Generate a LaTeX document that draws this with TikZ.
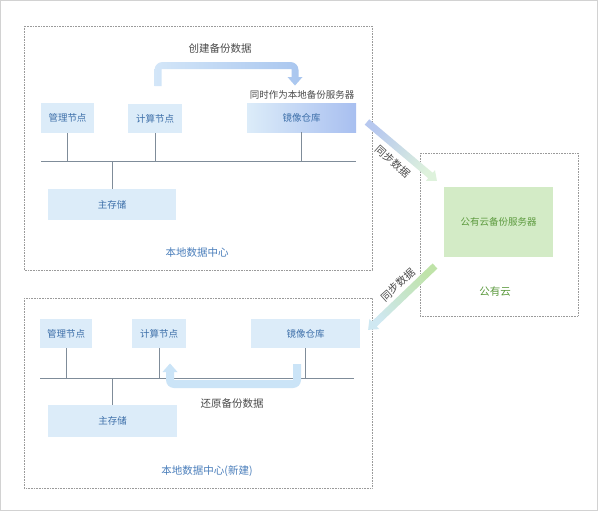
\documentclass[tikz,border=0pt]{standalone}
\usepackage{fontspec}
\newfontfamily\cjk{Noto Sans CJK SC}
\definecolor{boxfill}{HTML}{DCECF9}
\definecolor{boxtext}{HTML}{3D6FA9}
\definecolor{labtext}{HTML}{4A4A4A}
\definecolor{dctext}{HTML}{4A7EBB}
\definecolor{gfill}{HTML}{D3EBC6}
\definecolor{gtext}{HTML}{5C9A3E}
\definecolor{frame}{HTML}{9A9A9A}
\definecolor{busc}{HTML}{7F8C99}
\definecolor{repoR}{RGB}{168,191,240}
\definecolor{arrL}{RGB}{211,230,248}
\definecolor{arrR}{RGB}{169,198,239}
\definecolor{restc}{RGB}{203,228,247}
\definecolor{syncA}{RGB}{183,200,239}
\definecolor{syncB}{RGB}{222,242,220}
\definecolor{syncC}{RGB}{191,227,168}
\definecolor{syncD}{RGB}{207,232,242}
\tikzset{
  nbox/.style={draw=none, fill=boxfill, inner sep=0pt, font=\cjk\fontsize{9.5}{11}\selectfont, text=boxtext},
  lab/.style={inner sep=0pt, font=\cjk\fontsize{10.5}{12}\selectfont, text=labtext},
  dclab/.style={inner sep=0pt, font=\cjk\fontsize{10.5}{12}\selectfont, text=dctext},
  dcframe/.style={draw=frame, densely dotted, line width=0.6pt},
  bus/.style={draw=busc, line width=0.7pt},
}
\begin{document}
\begin{tikzpicture}[x=1pt,y=-1pt]
\useasboundingbox (0,0) rectangle (600,512);
\fill[white] (0,0) rectangle (600,512);
\draw[gray!35, line width=0.8pt] (0.5,0.5) rectangle (597.5,510.5);

% ---------- top data centre ----------
\draw[dcframe] (24,26) rectangle (372,270);
\node[nbox, minimum width=53pt, minimum height=30pt] (m1) at (67.5,118) {管理节点};
\node[nbox, minimum width=54pt, minimum height=29pt] (c1) at (155,118.5) {计算节点};
\node[nbox, minimum width=109pt, minimum height=29pt, left color=boxfill, right color=repoR] (r1) at (301.5,117.5) {镜像仓库};
\node[nbox, minimum width=128pt, minimum height=31pt] (s1) at (112,204.5) {主存储};
\coordinate (bl1) at (41,161);
\coordinate (br1) at (356,161);
\draw[bus] (bl1) -- (br1);
\draw[bus] (m1.south) -- (m1.south |- bl1);
\draw[bus] (c1.south) -- (c1.south |- bl1);
\draw[bus] (r1.south) -- (r1.south |- bl1);
\draw[bus] (s1.north) -- (s1.north |- bl1);
\node[lab] (t1) at (220,49) {创建备份数据};
\node[lab, font=\cjk\fontsize{9.5}{11}\selectfont] (t2) at (302,95) {同时作为本地备份服务器};
\node[dclab] (t3) at (197,253) {本地数据中心};
% create-backup arrow
\shade[left color=arrL, right color=arrR]
  (154.5,86) -- (154.5,70) .. controls (154.5,65.6) and (158.1,62) .. (162.5,62)
  -- (290.5,62) .. controls (294.9,62) and (298.5,65.6) .. (298.5,70)
  -- (298.5,77) -- (302.5,77) -- (295,85.5) -- (287.5,77) -- (291.5,77)
  -- (291.5,69) -- (161.5,69) -- (161.5,86) -- cycle;

% ---------- bottom data centre ----------
\draw[dcframe] (24,298) rectangle (372,488);
\node[nbox, minimum width=52pt, minimum height=29pt] (m2) at (66,333.5) {管理节点};
\node[nbox, minimum width=54pt, minimum height=29pt] (c2) at (159,333.5) {计算节点};
\node[nbox, minimum width=109pt, minimum height=29pt] (r2) at (305.5,333.5) {镜像仓库};
\node[nbox, minimum width=129pt, minimum height=32pt] (s2) at (112.5,421) {主存储};
\coordinate (bl2) at (40,378);
\coordinate (br2) at (354,378);
\draw[bus] (bl2) -- (br2);
\draw[bus] (m2.south) -- (m2.south |- bl2);
\draw[bus] (c2.south) -- (c2.south |- bl2);
\draw[bus] (r2.south) -- (r2.south |- bl2);
\draw[bus] (s2.north) -- (s2.north |- bl2);
% restore arrow
\fill[restc]
  (301,364) -- (301,380) .. controls (301,384.4) and (297.4,388) .. (293,388)
  -- (174,388) .. controls (169.6,388) and (166,384.4) .. (166,380)
  -- (166,372) -- (162.5,372) -- (170,363.5) -- (177.5,372) -- (174,372)
  -- (174,380) -- (293,380) -- (293,364) -- cycle;
\node[lab] (t4) at (232,404) {还原备份数据};
\node[dclab] (t5) at (207,471) {本地数据中心(新建)};

% ---------- public cloud ----------
\draw[dcframe] (420,153) rectangle (578,316);
\node[nbox, fill=gfill, text=gtext, minimum width=109pt, minimum height=70pt] (g) at (498.5,222) {公有云备份服务器};
\node[dclab, text=gtext] (t6) at (495,292) {公有云};

% sync arrows
\shade[top color=syncA, bottom color=syncB, shading angle=50]
  (369.26,119.32) -- (432.72,172.81) -- (434.97,170.14) -- (436.96,180.97)
  -- (425.95,180.84) -- (428.20,178.17) -- (364.74,124.68) -- cycle;
\node[lab, rotate=-42] (t7) at (393,162) {同步数据};
\shade[top color=syncC, bottom color=syncD, shading angle=-46]
  (432.58,263.47) -- (371.84,321.49) -- (369.43,318.96) -- (368.11,329.89)
  -- (379.09,329.08) -- (376.68,326.55) -- (437.42,268.53) -- cycle;
\node[lab, rotate=42] (t8) at (398,285) {同步数据};
\end{tikzpicture}
\end{document}
